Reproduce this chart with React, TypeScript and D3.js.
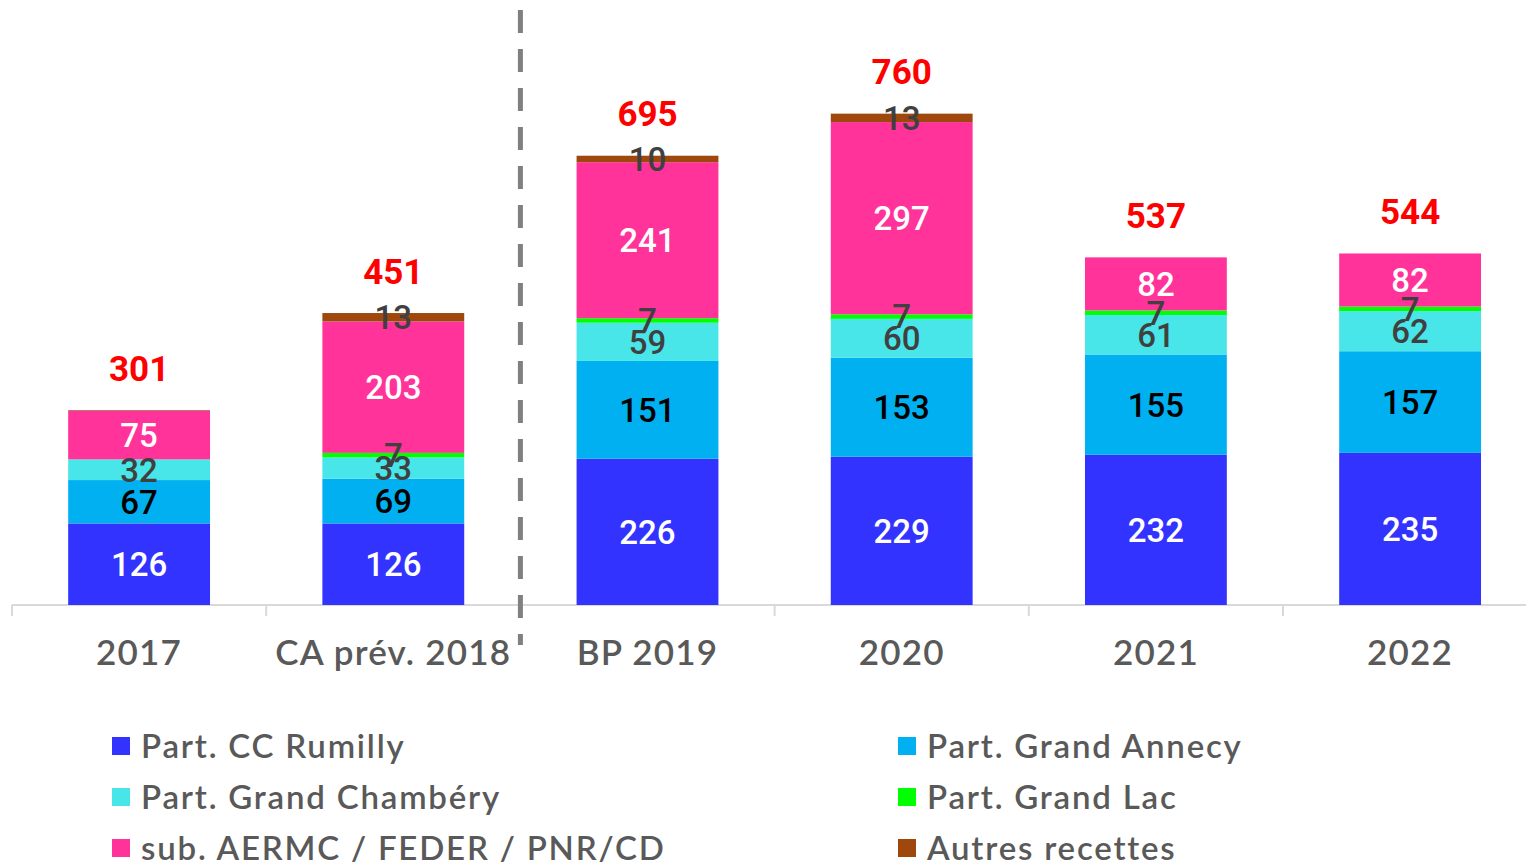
import React from "react";
import * as d3 from "d3";

const categories = ["2017", "CA prév. 2018", "BP 2019", "2020", "2021", "2022"];
const seriesNames = [
  "Part. CC Rumilly",
  "Part. Grand Annecy",
  "Part. Grand Chambéry",
  "Part. Grand Lac",
  "sub. AERMC / FEDER / PNR/CD",
  "Autres recettes",
];
const ccRumilly = [126, 126, 226, 229, 232, 235];
const grandAnnecy = [67, 69, 151, 153, 155, 157];
const grandChambery = [32, 33, 59, 60, 61, 62];
const grandLac = [0, 7, 7, 7, 7, 7];
const subventions = [75, 203, 241, 297, 82, 82];
const autres = [1, 13, 10, 13, 0, 0];
const totals = [301, 451, 695, 760, 537, 544];

const colors = ["#3333FF", "#00B0F0", "#48E6E8", "#00FF00", "#FF3399", "#9E480E"];
const labelColors = ["#FFFFFF", "#000000", "#404040", "#404040", "#FFFFFF", "#404040"];

export default function App() {
  const W = 1526;
  const H = 863;
  const seriesValues = [ccRumilly, grandAnnecy, grandChambery, grandLac, subventions, autres];
  const rows = categories.map((c, i) => {
    const r: any = { cat: c };
    seriesNames.forEach((s, j) => (r[s] = seriesValues[j][i]));
    return r;
  });
  const stacked = d3.stack<any>().keys(seriesNames)(rows);

  const x = d3
    .scaleBand<string>()
    .domain(categories)
    .range([12, 12 + 254.2 * categories.length])
    .paddingInner(0.442)
    .paddingOuter(0.221);
  const y = d3.scaleLinear().domain([0, 760]).range([605, 113]);
  const step = x.step();
  const baseY = y(0);
  const dividerX = x.range()[0] + step * 2;

  const valueFont = "Roboto, 'Noto Sans', sans-serif";
  const textFont = "Lato, 'Open Sans', sans-serif";

  return (
    <svg
      width={W}
      height={H}
      style={{ position: "absolute", left: 0, top: 0, background: "#fff" }}
    >
      {/* axis */}
      <line x1={x.range()[0]} x2={W} y1={baseY} y2={baseY} stroke="#D9D9D9" strokeWidth={2} />
      {categories.map((c, i) => {
        const tx = x.range()[0] + i * step;
        return (
          <line key={"t" + i} x1={tx} x2={tx} y1={baseY} y2={baseY + 11} stroke="#D9D9D9" strokeWidth={2} />
        );
      })}

      {/* bars */}
      {stacked.map((s, j) =>
        s.map((d, i) => {
          const h = y(d[0]) - y(d[1]);
          if (h <= 0) return null;
          return (
            <rect
              key={`r${j}-${i}`}
              x={x(categories[i])}
              y={y(d[1])}
              width={x.bandwidth()}
              height={h}
              fill={colors[j]}
            />
          );
        })
      )}

      {/* dashed divider */}
      <line
        x1={dividerX}
        x2={dividerX}
        y1={10}
        y2={645}
        stroke="#808080"
        strokeWidth={5}
        strokeDasharray="23 16"
      />

      {/* value labels */}
      {stacked.map((s, j) =>
        s.map((d, i) => {
          const v = seriesValues[j][i];
          if (v < 5) return null;
          const cy = (y(d[0]) + y(d[1])) / 2;
          return (
            <text
              key={`l${j}-${i}`}
              x={(x(categories[i]) as number) + x.bandwidth() / 2}
              y={cy}
              dy="0.36em"
              textAnchor="middle"
              fontFamily={valueFont}
              fontWeight={500}
              fontSize={33}
              fill={labelColors[j]}
            >
              {v}
            </text>
          );
        })
      )}

      {/* totals */}
      {categories.map((c, i) => {
        const top = stacked[stacked.length - 1][i][1];
        return (
          <text
            key={"tot" + i}
            x={(x(c) as number) + x.bandwidth() / 2}
            y={y(top) - 42}
            dy="0.36em"
            textAnchor="middle"
            fontFamily={valueFont}
            fontWeight={700}
            fontSize={35}
            fill="#FF0000"
          >
            {totals[i]}
          </text>
        );
      })}

      {/* category labels */}
      {categories.map((c) => (
        <text
          key={"c" + c}
          x={(x(c) as number) + x.bandwidth() / 2}
          y={652}
          dy="0.36em"
          textAnchor="middle"
          fontFamily={textFont}
          fontWeight={600}
          fontSize={35}
          letterSpacing={1.2}
          fill="#595959"
        >
          {c}
        </text>
      ))}

      {/* legend */}
      {seriesNames.map((s, j) => {
        const col = j % 2;
        const row = Math.floor(j / 2);
        const lx = col === 0 ? 112 : 898;
        const ly = 746 + row * 51;
        return (
          <g key={"lg" + j}>
            <rect x={lx} y={ly - 9} width={18} height={18} fill={colors[j]} />
            <text
              x={lx + 29}
              y={ly}
              dy="0.36em"
              fontFamily={textFont}
              fontWeight={600}
              fontSize={33}
              letterSpacing={1.8}
              fill="#595959"
            >
              {s}
            </text>
          </g>
        );
      })}
    </svg>
  );
}
